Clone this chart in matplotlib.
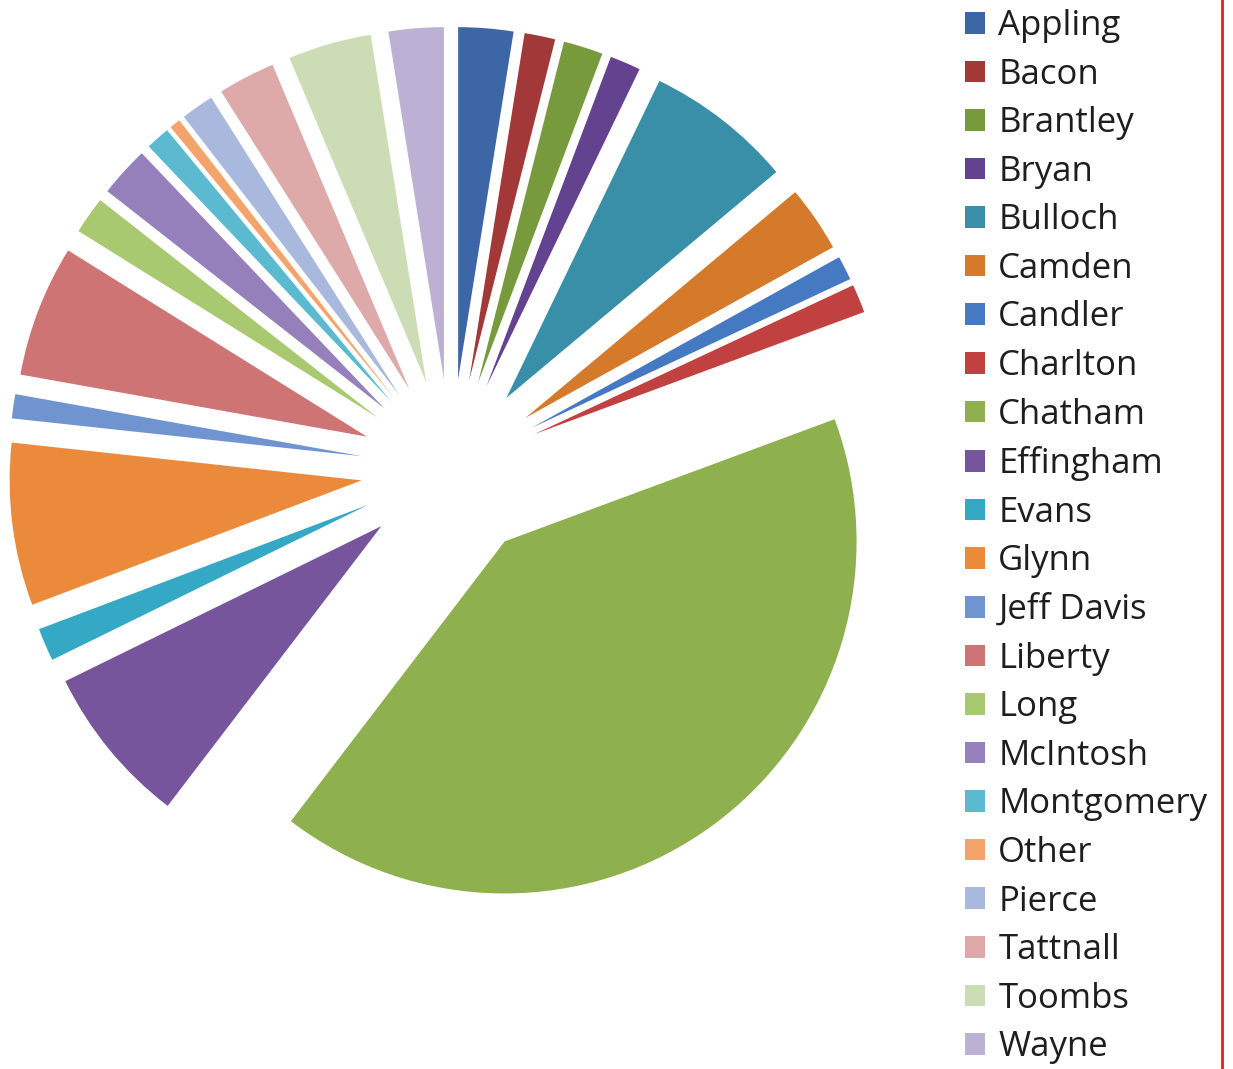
import numpy as np
import matplotlib
matplotlib.use("Agg")
from matplotlib import pyplot as plt
from matplotlib.lines import Line2D

#%% datos (porcentaje por condado)
condados = ["Appling", "Bacon", "Brantley", "Bryan", "Bulloch", "Camden", "Candler",
            "Charlton", "Chatham", "Effingham", "Evans", "Glynn", "Jeff Davis", "Liberty",
            "Long", "McIntosh", "Montgomery", "Other", "Pierce", "Tattnall", "Toombs", "Wayne"]
porcentajes = [2.5, 1.4, 1.8, 1.4, 6.7, 3.0, 1.1,
               1.3, 40.7, 7.3, 1.5, 7.4, 1.1, 6.0,
               1.7, 2.3, 1.1, 0.5, 1.5, 2.6, 3.8, 2.5]
colores = ["#3D66A6", "#A33838", "#779A3C", "#63428F", "#3A8FA8", "#D47A2A", "#4579C2",
           "#C0413F", "#8EB04E", "#76559C", "#34A8C4", "#EB8A3A", "#7094D0", "#CE7474",
           "#A9C970", "#9680BC", "#5BBAD0", "#F4A46A", "#A9B9DD", "#DDA9A9", "#CCDDB5", "#BDB0D5"]

#%% figura
W, H = 1233, 1069
fig = plt.figure(figsize=(W/100, H/100), dpi=100)
ax = fig.add_axes([0, 0, 1, 1])

cx, cy, R = 451, 469, 352  # centro y radio en pixeles
wedges, _ = ax.pie(porcentajes, colors=colores, startangle=90, counterclock=False,
                   explode=[0.256]*len(porcentajes), radius=1,
                   wedgeprops=dict(linewidth=0))
ax.set_xlim(-cx/R, (W-cx)/R)
ax.set_ylim(-(H-cy)/R, cy/R)
ax.axis("off")

fs = 25
leg = fig.legend(wedges, condados, loc="upper left", bbox_to_anchor=(965/W, 1 - 9/H),
                 frameon=False, handlelength=0.58, handleheight=0.58,
                 handletextpad=0.38, labelspacing=0.42, borderpad=0, borderaxespad=0,
                 prop={"family": "Open Sans", "size": fs})
for t in leg.get_texts():
    t.set_color("#1E1E1E")

# linea roja a la derecha
fig.add_artist(Line2D([1222/W, 1222/W], [0, 1], color="#E02020", linewidth=2))

plt.savefig("out.png", dpi=100)
